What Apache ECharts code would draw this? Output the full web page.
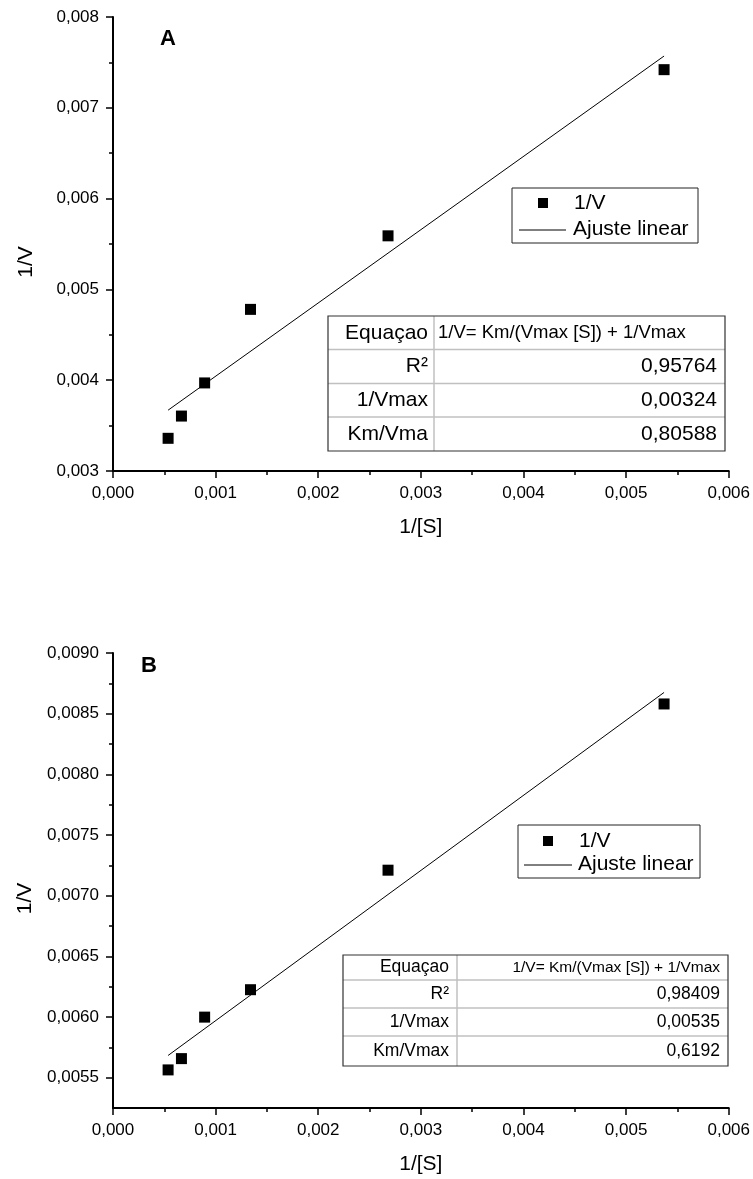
<!DOCTYPE html>
<html><head><meta charset="utf-8">
<script src="https://cdn.jsdelivr.net/npm/echarts@6/dist/echarts.min.js"></script>
<style>html,body{margin:0;padding:0;background:#fff}#c{width:753px;height:1179px}</style>
</head><body><div id="c"></div>
<script>
// ---- data ----
const substrateInv = [0.000537, 0.000667, 0.000893, 0.00134, 0.00268, 0.00537];
const velocityInvA = [0.00336, 0.003605, 0.00397, 0.00478, 0.00559, 0.00742];
const velocityInvB = [0.005564, 0.005657, 0.005999, 0.006225, 0.00721, 0.00858];
const fitXA = [0.000537, 0.00537];
const fitYA = [0.00367, 0.00757];
const fitXB = [0.000537, 0.00537];
const fitYB = [0.005683, 0.008675];
const yMajorB = [0.0055, 0.0060, 0.0065, 0.0070, 0.0075, 0.0080, 0.0085, 0.0090];
const yMinorB = [0.00575, 0.00625, 0.00675, 0.00725, 0.00775, 0.00825, 0.00875];
const tableLabelsA = ['Equaçao', 'R²', '1/Vmax', 'Km/Vma'];
const tableValuesA = ['1/V= Km/(Vmax [S]) + 1/Vmax', '0,95764', '0,00324', '0,80588'];
const tableLabelsB = ['Equaçao', 'R²', '1/Vmax', 'Km/Vmax'];
const tableValuesB = ['1/V= Km/(Vmax [S]) + 1/Vmax', '0,98409', '0,00535', '0,6192'];
const legendNames = ['1/V', 'Ajuste linear'];
const panelNames = ['A', 'B'];

const FONT = '"Liberation Sans", Arial, sans-serif';
const fmt = d => v => v.toFixed(d).replace('.', ',');

function xAxis(gridIndex) {
  return {
    type: 'value', gridIndex, min: 0, max: 0.006, interval: 0.001,
    name: '1/[S]', nameLocation: 'middle', nameGap: 46,
    nameTextStyle: {fontSize: 21, fontFamily: FONT, color: '#000'},
    axisLine: {show: true, onZero: false, lineStyle: {color: '#000', width: 2}},
    axisTick: {show: true, length: 7, lineStyle: {color: '#000', width: 1.5}},
    minorTick: {show: true, splitNumber: 2, length: 4, lineStyle: {color: '#000', width: 1.5}},
    axisLabel: {fontSize: 17, fontFamily: FONT, color: '#000', margin: 14, formatter: fmt(3)},
    splitLine: {show: false}
  };
}

const yA = {
  type: 'value', gridIndex: 0, position: 'left', min: 0.003, max: 0.008, interval: 0.001,
  name: '1/V', nameLocation: 'middle', nameGap: 76,
  nameTextStyle: {fontSize: 21, fontFamily: FONT, color: '#000', padding: [0, 36, 0, 0]},
  axisLine: {show: true, onZero: false, lineStyle: {color: '#000', width: 2}},
  axisTick: {show: true, length: 7, lineStyle: {color: '#000', width: 1.5}},
  minorTick: {show: true, splitNumber: 2, length: 4, lineStyle: {color: '#000', width: 1.5}},
  axisLabel: {fontSize: 17, fontFamily: FONT, color: '#000', margin: 14, formatter: fmt(3)},
  splitLine: {show: false}
};
const yB = {
  type: 'value', gridIndex: 1, position: 'left', offset: 0, min: 0.00525, max: 0.009,
  name: '1/V', nameLocation: 'middle', nameGap: 76,
  nameTextStyle: {fontSize: 21, fontFamily: FONT, color: '#000', padding: [0, 36, 0, 0]},
  axisLine: {show: true, onZero: false, lineStyle: {color: '#000', width: 2}},
  axisTick: {show: true, length: 7, customValues: yMajorB, lineStyle: {color: '#000', width: 1.5}},
  axisLabel: {fontSize: 17, fontFamily: FONT, color: '#000', margin: 14, customValues: yMajorB, formatter: fmt(4)},
  splitLine: {show: false}
};
const yBminor = {
  type: 'value', gridIndex: 1, position: 'left', offset: 0, min: 0.00525, max: 0.009,
  axisLine: {show: false},
  axisTick: {show: true, length: 4, customValues: yMinorB, lineStyle: {color: '#000', width: 1.5}},
  axisLabel: {show: false},
  splitLine: {show: false}
};

// ---- table / legend graphics ----
const graphics = [];
function txt(x, y, text, size, align, bold) {
  graphics.push({type: 'text', x, y, z: 10, style: {text, align, verticalAlign: 'middle',
    font: (bold ? 'bold ' : '') + size + 'px ' + FONT, fill: '#000'}});
}
function line(x1, y1, x2, y2, color, w) {
  graphics.push({type: 'line', z: 9, shape: {x1, y1, x2, y2}, style: {stroke: color, lineWidth: w}});
}
function table(x0, x1, x2, rows, labels, values, labelRight, valueRight, eqX, eqAlign, fs, eqFs) {
  for (let i = 1; i < rows.length - 1; i++) line(x0, rows[i], x2, rows[i], '#c0c0c0', 1.5);
  line(x1, rows[0], x1, rows[rows.length - 1], '#c0c0c0', 1.5);
  graphics.push({type: 'rect', z: 9, shape: {x: x0, y: rows[0], width: x2 - x0, height: rows[rows.length - 1] - rows[0]},
    style: {fill: 'none', stroke: '#333', lineWidth: 1.2}});
  labels.forEach((l, i) => {
    const cy = (rows[i] + rows[i + 1]) / 2;
    txt(labelRight, cy, l, fs, 'right');
    if (i === 0) txt(eqX, cy, values[i], eqFs, eqAlign);
    else txt(valueRight, cy, values[i], fs, 'right');
  });
}
function legend(bx, by, bw, bh, mx, my, tx1, lx1, lx2, ly, tx2, ly2) {
  graphics.push({type: 'rect', z: 9, shape: {x: bx, y: by, width: bw, height: bh},
    style: {fill: '#fff', stroke: '#222', lineWidth: 1}});
  graphics.push({type: 'rect', z: 10, shape: {x: mx - 5, y: my - 5, width: 10, height: 10}, style: {fill: '#000'}});
  txt(tx1, my, legendNames[0], 21, 'left');
  line(lx1, ly, lx2, ly, '#000', 1);
  txt(tx2, ly2, legendNames[1], 21, 'left');
}
table(328, 434, 725, [316, 349.5, 383.5, 417, 451], tableLabelsA, tableValuesA, 428, 717, 438, 'left', 21, 18.5);
table(343, 457, 728, [955, 980, 1008, 1036, 1066], tableLabelsB, tableValuesB, 449, 720, 720, 'right', 17.5, 15.5);
legend(512, 188, 186, 55, 543, 203, 574, 519, 566, 230, 573, 229);
legend(518, 825, 182, 53, 548, 841, 579, 524, 572, 865, 578, 864);
txt(168, 39, panelNames[0], 22, 'center', true);
txt(149, 666, panelNames[1], 22, 'center', true);

const chart = echarts.init(document.getElementById('c'), null, {renderer: 'canvas'});
chart.setOption({
  animation: false,
  backgroundColor: '#fff',
  grid: [
    {left: 113, top: 17, right: 22, bottom: 708},
    {left: 113, top: 653, right: 22, bottom: 71}
  ],
  xAxis: [xAxis(0), xAxis(1)],
  yAxis: [yA, yB, yBminor],
  series: [
    {name: legendNames[0], type: 'scatter', xAxisIndex: 0, yAxisIndex: 0, symbol: 'rect', symbolSize: 11,
      itemStyle: {color: '#000', opacity: 1}, data: substrateInv.map((x, i) => [x, velocityInvA[i]])},
    {name: legendNames[1], type: 'line', xAxisIndex: 0, yAxisIndex: 0, showSymbol: false, symbol: 'none',
      lineStyle: {color: '#000', width: 1}, data: fitXA.map((x, i) => [x, fitYA[i]])},
    {name: legendNames[0], type: 'scatter', xAxisIndex: 1, yAxisIndex: 1, symbol: 'rect', symbolSize: 11,
      itemStyle: {color: '#000', opacity: 1}, data: substrateInv.map((x, i) => [x, velocityInvB[i]])},
    {name: legendNames[1], type: 'line', xAxisIndex: 1, yAxisIndex: 1, showSymbol: false, symbol: 'none',
      lineStyle: {color: '#000', width: 1}, data: fitXB.map((x, i) => [x, fitYB[i]])}
  ],
  graphic: graphics
});
</script>
</body></html>
